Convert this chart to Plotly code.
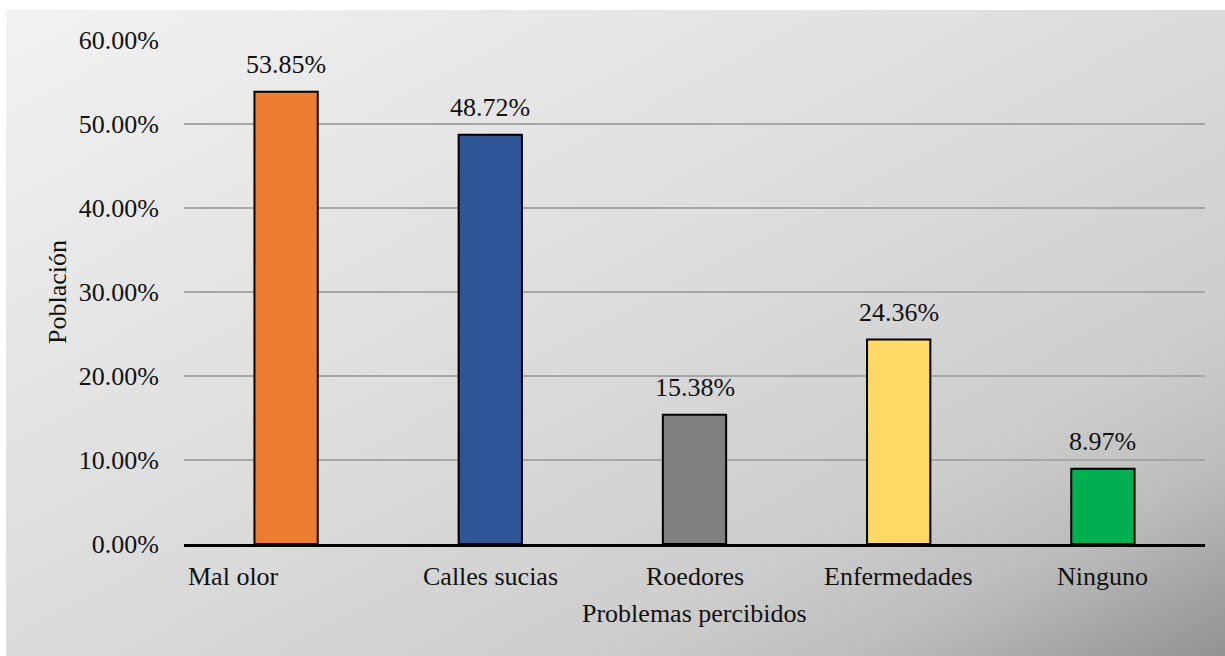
import base64
import plotly.graph_objects as go

# Survey results: perceived problems
categories = ["Mal olor", "Calles sucias", "Roedores", "Enfermedades", "Ninguno"]
values = [53.85, 48.72, 15.38, 24.36, 8.97]
bar_colors = ["#ED7D31", "#2F5597", "#7F7F7F", "#FFD966", "#00B050"]
y_ticks = [0, 10, 20, 30, 40, 50, 60]

W, H = 1225, 656
ML, MR, MT, MB = 184, 20, 40, 112
FONT = "Liberation Serif, Times New Roman, serif"
FS = 26
TXT = "#111111"

plot_w = W - ML - MR
plot_h = H - MT - MB

# diagonal grey gradient used as the chart-area background
svg = (
    '<svg xmlns="http://www.w3.org/2000/svg" width="1219" height="646" preserveAspectRatio="none">'
    '<defs><linearGradient id="g" x1="0" y1="0" x2="1" y2="1">'
    '<stop offset="0" stop-color="#F2F2F2"/>'
    '<stop offset="0.5" stop-color="#DBDBDB"/>'
    '<stop offset="0.74" stop-color="#CDCDCD"/>'
    '<stop offset="0.85" stop-color="#BDBDBD"/>'
    '<stop offset="1" stop-color="#929292"/>'
    '</linearGradient></defs>'
    '<rect x="0" y="0" width="1219" height="646" fill="url(#g)"/></svg>'
)
bg_uri = "data:image/svg+xml;base64," + base64.b64encode(svg.encode()).decode()

panel_left, panel_top = 6, 10
img_x = (panel_left - ML) / plot_w
img_y = (H - MB - panel_top) / plot_h
img_sx = (W - panel_left) / plot_w
img_sy = (H - panel_top) / plot_h

fig = go.Figure()
fig.add_trace(go.Bar(
    x=categories,
    y=values,
    width=0.31,
    marker=dict(color=bar_colors, line=dict(color="#000000", width=2)),
    hoverinfo="skip",
))

annotations = []
# value labels above bars
for c, v in zip(categories, values):
    annotations.append(dict(
        x=c, y=v, xref="x", yref="y", text=f"{v:.2f}%", showarrow=False,
        xanchor="center", yanchor="middle", yshift=27,
        font=dict(family=FONT, size=FS, color=TXT),
    ))
# category labels below the axis
for i, c in enumerate(categories):
    if i == 0:
        annotations.append(dict(
            x=c, y=0, xref="x", yref="paper", text=c, showarrow=False,
            xanchor="left", yanchor="middle", xshift=-100, yshift=-32,
            font=dict(family=FONT, size=FS, color=TXT),
        ))
    else:
        annotations.append(dict(
            x=c, y=0, xref="x", yref="paper", text=c, showarrow=False,
            xanchor="center", yanchor="middle", yshift=-32,
            font=dict(family=FONT, size=FS, color=TXT),
        ))
# axis titles
annotations.append(dict(
    x=0.5, y=0, xref="paper", yref="paper", text="Problemas percibidos",
    showarrow=False, xanchor="center", yanchor="middle", yshift=-69,
    font=dict(family=FONT, size=FS, color=TXT),
))
annotations.append(dict(
    x=0, y=0.5, xref="paper", yref="paper", text="Población", textangle=-90,
    showarrow=False, xanchor="center", yanchor="middle", xshift=-127,
    font=dict(family=FONT, size=FS, color=TXT),
))

fig.update_layout(
    width=W, height=H,
    margin=dict(l=ML, r=MR, t=MT, b=MB, pad=0),
    paper_bgcolor="#FFFFFF",
    plot_bgcolor="rgba(0,0,0,0)",
    showlegend=False,
    bargap=0.69,
    font=dict(family=FONT, size=FS, color=TXT),
    annotations=annotations,
    images=[dict(
        source=bg_uri, xref="paper", yref="paper",
        x=img_x, y=img_y, sizex=img_sx, sizey=img_sy,
        xanchor="left", yanchor="top", sizing="stretch", layer="below",
    )],
    xaxis=dict(
        type="category", range=[-0.5, len(categories) - 0.5],
        showticklabels=False, ticks="", showgrid=False,
        showline=True, linecolor="#000000", linewidth=3,
        fixedrange=True,
    ),
    yaxis=dict(
        range=[0, 60], tickvals=y_ticks,
        ticktext=[f"{t:.2f}%" for t in y_ticks],
        showgrid=True, gridcolor="#A6A6A6", gridwidth=1.5,
        zeroline=False, showline=False, ticks="",
        ticklabelstandoff=24,
        tickfont=dict(family=FONT, size=FS, color=TXT),
        fixedrange=True,
    ),
)

fig.write_html("out.html")
